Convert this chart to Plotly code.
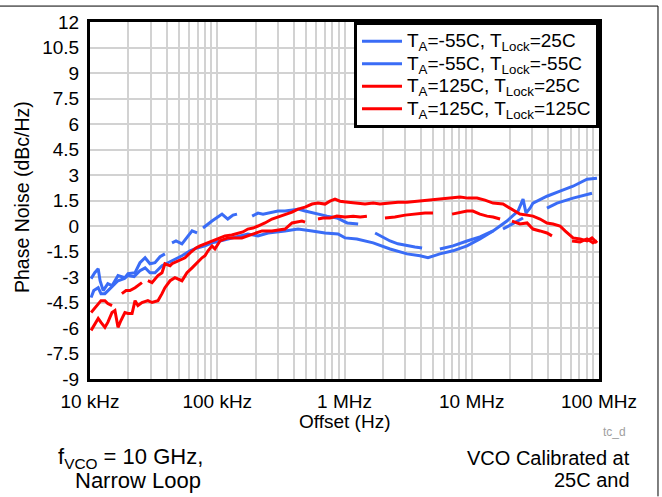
import plotly.graph_objects as go

# ---------------- data ----------------
N = None
blue1_f = [10.2e3, 10.9e3, 11.6e3, 12.0e3, 12.7e3, 13.8e3, 14.9e3, 16.6e3, 18.8e3, 19.9e3, 22.6e3, 24.7e3, 27.1e3, 29.6e3, 32.4e3, 35.5e3, 38.8e3, N,
           44.1e3, 47.4e3, 52.8e3, 57.8e3, 63.4e3, 69.4e3, N,
           77.3e3, 84.6e3, 90.9e3, 101e3, 109e3, 121e3, 133e3, 143e3, N,
           188e3, 209e3, 229e3, 251e3, 274e3, 300e3, 341e3, 387e3, 431e3, 490e3, 566e3, 642e3, 728e3, 873e3, 1.05e6, 1.28e6, N,
           1.74e6, 1.97e6, 2.28e6, 2.63e6, 3.10e6, 3.58e6, 4.07e6, N,
           5.62e6, 7.12e6, 9.18e6, 11.6e6, 14.7e6, N,
           17.6e6, 21.1e6, 25.3e6, N,
           39.0e6, 46.8e6, 62.5e6, 85.0e6, 88.1e6]
blue1_v = [-3.10, -2.75, -2.51, -3.22, -3.80, -3.39, -3.51, -2.92, -3.04, -2.81, -2.75, -2.16, -1.87, -2.22, -2.16, -1.81, -1.64, N,
           -0.99, -0.88, -1.05, -0.64, -0.29, -0.41, N,
           -0.12, 0.12, 0.29, 0.53, 0.70, 0.41, 0.64, 0.70, N,
           0.58, 0.76, 0.70, 0.76, 0.82, 0.88, 0.88, 0.94, 0.99, 0.88, 0.76, 0.70, 0.58, 0.47, 0.18, 0.12, N,
           -0.41, -0.64, -0.88, -1.05, -1.17, -1.23, -1.29, N,
           -1.35, -1.17, -0.88, -0.64, -0.29, N,
           -0.18, 0.12, 0.47, N,
           1.05, 1.35, 1.64, 1.87, 1.93]

blue2_f = [10.2e3, 10.7e3, 11.6e3, 12.2e3, 13.1e3, 14.4e3, 15.4e3, 16.6e3, 18.5e3, 19.9e3, 22.2e3, 24.7e3, 27.1e3, 29.6e3, 32.4e3,
           36.8e3, 41.0e3, 47.4e3, 52.8e3, 61.1e3, 69.4e3, 80.1e3, 90.9e3, 105e3, 121e3, 143e3, 174e3, 209e3, 251e3, 341e3,
           431e3, 556e3, 703e3, 889e3, 1.01e6, 1.25e6, 1.68e6, 2.28e6, 3.10e6, 3.92e6, 4.53e6, 5.62e6, 7.12e6, 9.18e6,
           11.6e6, 14.7e6, 18.9e6, 23.1e6, 25.3e6, 26.7e6, 28.7e6, 30.3e6, 39.0e6, 49.4e6, 62.5e6, 80.5e6, 96.4e6]
blue2_v = [-4.21, -3.80, -3.63, -3.98, -3.98, -3.68, -3.51, -3.22, -3.10, -2.92, -2.98, -2.63, -2.46, -2.75, -2.75,
           -2.34, -2.16, -1.93, -1.75, -1.46, -1.29, -1.17, -0.99, -0.88, -0.76, -0.64, -0.47, -0.58, -0.41, -0.29,
           -0.18, -0.29, -0.41, -0.47, -0.70, -0.76, -0.99, -1.35, -1.64, -1.75, -1.87, -1.64, -1.46, -1.17,
           -0.76, -0.29, 0.29, 0.88, 1.58, 0.76, 1.05, 1.35, 1.75, 2.05, 2.34, 2.75, 2.81]

red1_f = [10.2e3, 10.9e3, 11.6e3, 12.2e3, 13.1e3, 13.8e3, 14.9e3, N,
          17.8e3, 19.2e3, 20.6e3, 22.6e3, 25.6e3, N,
          28.5e3, 30.7e3, 34.2e3, 36.8e3, 38.8e3, 42.6e3, 44.1e3, 49.2e3, 55.8e3, 61.1e3, 68.1e3, 73.2e3, 80.1e3, 90.9e3,
          101e3, 115e3, 130e3, 146e3, 159e3, 174e3, 191e3, 209e3, 237e3, 269e3, 300e3, 341e3, 387e3, 431e3, 490e3, 556e3,
          619e3, 703e3, 769e3, 842e3, 922e3, 1.07e6, 1.25e6, 1.45e6, 1.68e6, 1.90e6, 2.28e6, 2.63e6, 3.10e6, 3.72e6, 4.45e6,
          4.96e6, 5.62e6, 6.75e6, 8.09e6, 9.35e6, 11.0e6, 12.7e6, 14.7e6, 17.6e6, 20.0e6, 21.9e6, 23.9e6, 27.2e6, 30.3e6,
          34.4e6, 39.0e6, 43.5e6, 49.4e6, 54.1e6, 62.5e6, 71.0e6, 80.5e6, 88.1e6, 96.4e6]
red1_v = [-5.09, -4.85, -4.56, -4.39, -4.39, -4.56, -4.68, N,
          -3.98, -3.80, -3.80, -3.63, -3.33, N,
          -3.22, -3.33, -2.92, -2.75, -2.22, -2.34, -2.22, -2.05, -1.87, -1.58, -1.29, -1.17, -1.05, -0.88,
          -0.76, -0.58, -0.53, -0.41, -0.35, -0.18, -0.12, 0.00, 0.18, 0.41, 0.53, 0.70, 0.82, 0.99, 1.11, 1.29,
          1.35, 1.29, 1.46, 1.58, 1.46, 1.40, 1.35, 1.29, 1.35, 1.29, 1.35, 1.40, 1.40, 1.46, 1.52,
          1.52, 1.58, 1.64, 1.70, 1.64, 1.64, 1.52, 1.35, 1.29, 1.05, 0.88, 0.70, 0.64, 0.58,
          0.41, 0.18, 0.12, 0.00, -0.29, -0.70, -0.76, -0.88, -0.70, -0.99]

red2_f = [10.2e3, 10.7e3, 11.6e3, 12.2e3, 13.1e3, 13.8e3, 14.9e3, 15.7e3, 16.6e3, 17.5e3, 18.8e3, 19.9e3, 21.4e3, 22.6e3,
          23.8e3, 25.6e3, 28.5e3, 30.7e3, 34.2e3, 36.8e3, 38.8e3, 42.6e3, 46.5e3, 52.8e3, 57.8e3, 63.4e3, 69.4e3, 75.9e3,
          80.1e3, 84.6e3, 90.9e3, 95.9e3, 105e3, 121e3, 156e3, 188e3, 225e3, 269e3, 341e3, 387e3, 463e3, 490e3, N,
          619e3, 678e3, 769e3, 873e3, 1.01e6, 1.17e6, 1.33e6, 1.50e6, N,
          2.08e6, 2.49e6, 2.99e6, 3.58e6, 4.29e6, 4.96e6, N,
          7.00e6, 8.09e6, 9.18e6, 10.2e6, 11.6e6, 13.2e6, 14.7e6, 16.7e6, N,
          20.7e6, 23.9e6, 27.2e6, 30.3e6, 34.4e6, 39.0e6, 42.7e6, N,
          61.4e6, 71.0e6, 80.5e6, 89.7e6, 96.4e6]
red2_v = [-6.14, -5.85, -5.44, -5.67, -5.96, -5.67, -5.09, -4.97, -5.96, -5.56, -5.09, -5.15, -5.15, -4.39,
          -4.68, -4.50, -4.39, -4.50, -4.39, -3.98, -3.63, -3.22, -3.04, -3.22, -2.75, -2.46, -2.16, -1.87,
          -1.75, -1.46, -1.17, -1.35, -0.88, -0.70, -0.70, -0.47, -0.29, -0.29, -0.18, 0.18, 0.29, 0.23, N,
          0.41, 0.47, 0.47, 0.58, 0.53, 0.58, 0.53, 0.58, N,
          0.47, 0.53, 0.64, 0.70, 0.76, 0.76, N,
          0.70, 0.82, 0.88, 0.88, 0.70, 0.58, 0.53, 0.41, N,
          0.29, 0.12, 0.18, -0.18, -0.29, -0.41, -0.58, N,
          -0.88, -0.94, -0.76, -0.99, -0.88]

series_names = ["T<sub>A</sub>=-55C, T<sub>Lock</sub>=25C",
                "T<sub>A</sub>=-55C, T<sub>Lock</sub>=-55C",
                "T<sub>A</sub>=125C, T<sub>Lock</sub>=25C",
                "T<sub>A</sub>=125C, T<sub>Lock</sub>=125C"]

y_tickvals = [-9, -7.5, -6, -4.5, -3, -1.5, 0, 1.5, 3, 4.5, 6, 7.5, 9, 10.5, 12]
y_ticktext = ["-9", "-7.5", "-6", "-4.5", "-3", "-1.5", "0", "1.5", "3", "4.5", "6", "7.5", "9", "10.5", "12"]
x_decades = [1e4, 1e5, 1e6, 1e7, 1e8]
x_decade_labels = ["10 kHz", "100 kHz", "1 MHz", "10 MHz", "100 MHz"]

# ---------------- figure ----------------
BLUE = "#3a6cf6"
RED = "#ff0000"
FONT = "Liberation Sans, Arial, sans-serif"
GRID = "#d2d2d2"

fig = go.Figure()
for xs, ys, name, col in [(blue1_f, blue1_v, series_names[0], BLUE),
                          (blue2_f, blue2_v, series_names[1], BLUE),
                          (red1_f, red1_v, series_names[2], RED),
                          (red2_f, red2_v, series_names[3], RED)]:
    fig.add_trace(go.Scatter(x=xs, y=ys, mode="lines",
                             name="<span style='font-size:19px'>" + name + "</span>",
                             line=dict(color=col, width=3), connectgaps=False))

x_minor = [d * m for d in x_decades[:-1] for m in range(2, 10)]

fig.update_layout(
    width=662, height=497, autosize=False,
    paper_bgcolor="white", plot_bgcolor="white",
    margin=dict(l=90, r=63, t=20, b=118),
    font=dict(family=FONT, size=19, color="black"),
    showlegend=True,
    legend=dict(x=1, y=1, xanchor="right", yanchor="top",
                bgcolor="white", bordercolor="black", borderwidth=3,
                font=dict(family=FONT, size=15, color="black"),
                tracegroupgap=0, itemwidth=40),
    xaxis=dict(type="log", range=[4, 8], tickvals=x_decades, ticktext=x_decade_labels,
               showgrid=True, gridcolor=GRID, gridwidth=2,
               minor=dict(tickvals=x_minor, showgrid=True, gridcolor=GRID, gridwidth=2, ticks=""),
               showline=True, linecolor="black", linewidth=3, mirror=True,
               ticks="", ticklabelstandoff=3, zeroline=False,
               tickfont=dict(family=FONT, size=19)),
    yaxis=dict(range=[-9, 12], tickvals=y_tickvals, ticktext=y_ticktext,
               showgrid=True, gridcolor=GRID, gridwidth=2,
               showline=True, linecolor="black", linewidth=3, mirror=True,
               ticks="", ticklabelstandoff=4, zeroline=False,
               tickfont=dict(family=FONT, size=19)),
    annotations=[
        dict(text="Phase Noise (dBc/Hz)", x=-0.1336, y=0.5097, xref="paper", yref="paper",
             textangle=-90, showarrow=False, font=dict(size=19.5), xanchor="center", yanchor="middle"),
        dict(text="Offset (Hz)", x=0.501, y=-0.1198, xref="paper", yref="paper",
             showarrow=False, font=dict(size=19), xanchor="center", yanchor="middle"),
        dict(text="tc_d", x=1.0314, y=-0.1476, xref="paper", yref="paper",
             showarrow=False, font=dict(size=12, color="#a0a0a0"), xanchor="center", yanchor="middle"),
        dict(text="f<sub>VCO</sub> = 10 GHz,", x=0.2259, y=-0.2201, xref="paper", yref="paper",
             showarrow=False, font=dict(size=22), xanchor="right", yanchor="middle"),
        dict(text="Narrow Loop", x=0.222, y=-0.2841, xref="paper", yref="paper",
             showarrow=False, font=dict(size=22), xanchor="right", yanchor="middle"),
        dict(text="VCO Calibrated at", x=1.0648, y=-0.2201, xref="paper", yref="paper",
             showarrow=False, font=dict(size=20), xanchor="right", yanchor="middle"),
        dict(text="25C and", x=1.0648, y=-0.2841, xref="paper", yref="paper",
             showarrow=False, font=dict(size=20), xanchor="right", yanchor="middle"),
    ],
    shapes=[
        dict(type="line", xref="paper", yref="paper", x0=-0.1768, x1=1.1159, y0=1.0446, y1=1.0446,
             line=dict(color="black", width=1)),
        dict(type="line", xref="paper", yref="paper", x0=1.1159, x1=1.1159, y0=1.0446, y1=-0.3287,
             line=dict(color="black", width=1)),
    ],
)

fig.write_html("out.html", config={"displayModeBar": False},
               post_script="document.body.style.margin='0';document.body.style.overflow='hidden';")
